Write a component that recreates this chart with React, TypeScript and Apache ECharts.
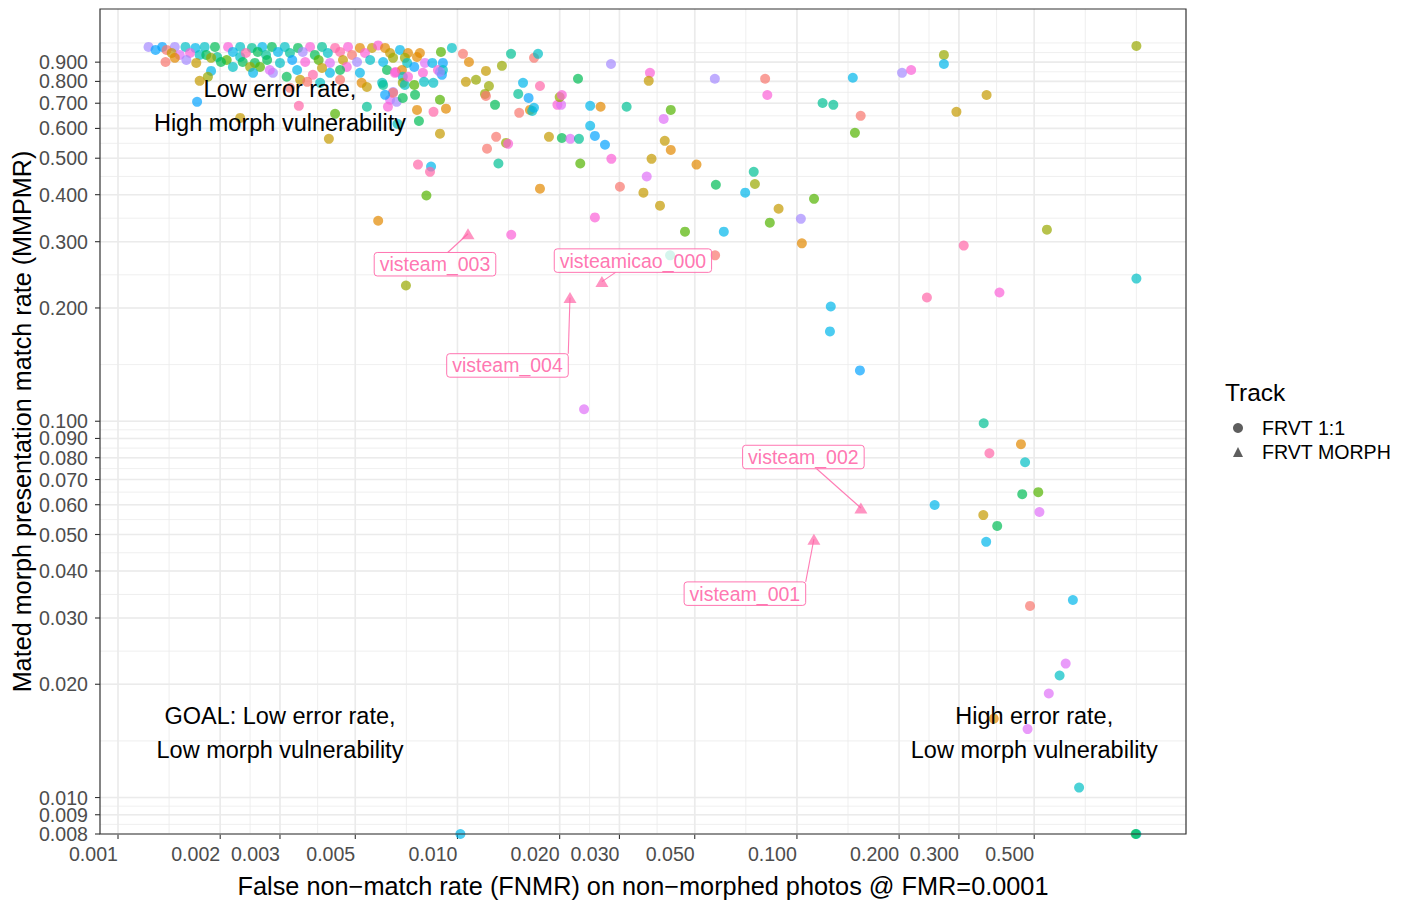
import React, { useEffect, useRef } from "react";
import * as echarts from "echarts";

// ---------------- DATA ----------------
// FRVT 1:1 algorithms, dense cluster (low FNMR, high MMPMR)
const CLUSTER_FNMR = [
  0.00123, 0.00135, 0.00147, 0.00158, 0.00169, 0.0018, 0.00193, 0.00211, 0.00229, 0.00248,
  0.00266, 0.00284, 0.0031, 0.00339, 0.00368, 0.00399, 0.00436, 0.00476, 0.00516, 0.0056,
  0.00584, 0.00612, 0.00677, 0.00715, 0.00129, 0.00139, 0.00144, 0.00152, 0.00163, 0.00174,
  0.00182, 0.00196, 0.00209, 0.00218, 0.00229, 0.00238, 0.00258, 0.00273, 0.00296, 0.00321,
  0.0035, 0.0038, 0.00415, 0.00451, 0.00489, 0.00534, 0.00633, 0.0076, 0.00775, 0.00138,
  0.00147, 0.00159, 0.0017, 0.00188, 0.00201, 0.00233, 0.00253, 0.00275, 0.003, 0.00326,
  0.00356, 0.0039, 0.00421, 0.0046, 0.00506, 0.00553, 0.00604, 0.00646, 0.007, 0.00711,
  0.00746, 0.00802, 0.00843, 0.00906, 0.00218, 0.00245, 0.00262, 0.00286, 0.00337, 0.00314,
  0.00375, 0.00421, 0.00472, 0.00516, 0.0062, 0.00658, 0.00686, 0.0069, 0.00791, 0.00876,
  0.009, 0.00906, 0.00654, 0.00188, 0.0025, 0.00184, 0.0028, 0.00399, 0.00451, 0.00174,
  0.00344, 0.00361, 0.00394, 0.00451, 0.00522, 0.00541, 0.006, 0.00604, 0.0069, 0.007,
  0.00746, 0.00797, 0.00849, 0.00715, 0.00888, 0.00321, 0.00646, 0.00633, 0.00646, 0.00612,
  0.00662, 0.0069, 0.00541, 0.00624, 0.00341, 0.00436, 0.00229, 0.00171, 0.00666,
];
const CLUSTER_MMPMR = [
  0.988, 0.988, 0.988, 0.988, 0.982, 0.988, 0.988, 0.988, 0.988, 0.982,
  0.988, 0.988, 0.988, 0.982, 0.988, 0.988, 0.982, 0.988, 0.982, 0.982,
  0.997, 0.982, 0.97, 0.952, 0.97, 0.97, 0.952, 0.941, 0.952, 0.941,
  0.941, 0.929, 0.912, 0.958, 0.929, 0.952, 0.958, 0.941, 0.958, 0.952,
  0.958, 0.941, 0.952, 0.958, 0.941, 0.952, 0.952, 0.929, 0.952, 0.901,
  0.924, 0.912, 0.896, 0.924, 0.901, 0.901, 0.896, 0.912, 0.896, 0.912,
  0.901, 0.912, 0.896, 0.912, 0.901, 0.912, 0.901, 0.924, 0.924, 0.896,
  0.874, 0.896, 0.896, 0.896, 0.874, 0.874, 0.874, 0.843, 0.858, 0.823,
  0.833, 0.843, 0.874, 0.843, 0.858, 0.848, 0.858, 0.823, 0.843, 0.858,
  0.833, 0.858, 0.843, 0.853, 0.843, 0.823, 0.858, 0.869, 0.858, 0.803,
  0.808, 0.798, 0.793, 0.808, 0.793, 0.773, 0.793, 0.783, 0.793, 0.783,
  0.783, 0.798, 0.793, 0.823, 0.848, 0.769, 0.75, 0.715, 0.746, 0.737,
  0.706, 0.723, 0.685, 0.685, 0.689, 0.656, 0.64, 0.706, 0.617,
];
const CLUSTER_TEAM = [
  10, 9, 10, 7, 8, 7, 5, 12, 7, 6,
  8, 5, 7, 5, 12, 6, 13, 12, 1, 2,
  12, 1, 8, 1, 9, 0, 2, 11, 12, 7,
  5, 6, 4, 8, 7, 13, 5, 6, 8, 6,
  10, 5, 7, 13, 0, 12, 2, 1, 1, 0,
  1, 10, 2, 3, 5, 5, 5, 5, 7, 9,
  12, 4, 11, 2, 10, 7, 8, 3, 3, 7,
  9, 11, 8, 9, 7, 3, 4, 10, 8, 5,
  13, 8, 12, 8, 5, 12, 1, 7, 12, 12,
  9, 7, 12, 8, 8, 3, 11, 2, 5, 2,
  2, 0, 7, 0, 1, 2, 7, 6, 3, 7,
  4, 7, 7, 12, 10, 0, 10, 11, 0, 9,
  10, 5, 6, 12, 13, 4, 2, 9, 7,
];

// FRVT 1:1 algorithms, spread-out points (MMPMR 0 = none matched, drawn at panel edge)
const SPREAD_FNMR = [
  0.00963, 0.01038, 0.01081, 0.00894, 0.01213, 0.01352, 0.01438, 0.01681, 0.01727, 0.02833,
  0.0369, 0.0366, 0.0573, 0.02265, 0.01059, 0.01134, 0.01238, 0.01205, 0.01213, 0.0129,
  0.0156, 0.0175, 0.0151, 0.0162, 0.0152, 0.01635, 0.0166, 0.0168, 0.0197, 0.0202,
  0.02, 0.0203, 0.0246, 0.0264, 0.0315, 0.0425, 0.0405, 0.0246, 0.0254, 0.0272,
  0.0186, 0.0203, 0.0215, 0.0228, 0.013, 0.0139, 0.0141, 0.0408, 0.0425, 0.00888,
  0.00925, 0.0085, 0.0075, 0.0077, 0.00888, 0.0076, 0.01222, 0.0132, 0.0284, 0.023,
  0.0301, 0.0373, 0.0361, 0.0353, 0.0395, 0.0175, 0.0506, 0.0577, 0.0746, 0.0752,
  0.0704, 0.0883, 0.1123, 0.0832, 0.1027, 0.1034, 0.0468, 0.0609, 0.0254, 0.0144,
  0.0423, 0.0574, 0.00418, 0.00765, 0.00836, 0.0083, 0.0081, 0.00584, 0.0806, 0.0818,
  0.119, 0.128, 0.1461, 0.1541, 0.1482, 0.204, 0.217, 0.271, 0.271, 0.362,
  0.295, 1.0, 0.1258, 0.1251, 0.1533, 0.31, 0.2415, 0.395, 0.545, 1.0,
  0.355, 0.457, 0.369, 0.47, 0.461, 0.514, 0.2545, 0.518, 0.354, 0.389,
  0.361, 0.486, 0.65, 0.619, 0.594, 0.552, 0.38, 0.478, 0.678, 1.0,
  0.995, 0.0102, 0.0236, 0.00705,
];
const SPREAD_MMPMR = [
  0.982, 0.947, 0.901, 0.958, 0.853, 0.88, 0.947, 0.924, 0.947, 0.89,
  0.843, 0.803, 0.813, 0.813, 0.798, 0.808, 0.778, 0.741, 0.732, 0.693,
  0.793, 0.778, 0.741, 0.723, 0.66, 0.672, 0.668, 0.681, 0.693, 0.693,
  0.727, 0.736, 0.689, 0.685, 0.685, 0.672, 0.636, 0.61, 0.573, 0.543,
  0.57, 0.566, 0.563, 0.563, 0.57, 0.549, 0.546, 0.556, 0.526, 0.715,
  0.677, 0.664, 0.737, 0.628, 0.581, 0.672, 0.53, 0.484, 0.498, 0.484,
  0.42, 0.498, 0.447, 0.405, 0.374, 0.415, 0.481, 0.425, 0.46, 0.427,
  0.405, 0.367, 0.39, 0.337, 0.345, 0.297, 0.319, 0.319, 0.348, 0.313,
  0.276, 0.276, 0.563, 0.481, 0.475, 0.46, 0.398, 0.341, 0.813, 0.736,
  0.701, 0.693, 0.818, 0.648, 0.584, 0.843, 0.858, 0.941, 0.89, 0.736,
  0.664, 0.994, 0.2018, 0.1733, 0.1365, 0.293, 0.2132, 0.2199, 0.323, 0.2394,
  0.0988, 0.0869, 0.0822, 0.0778, 0.064, 0.0648, 0.0599, 0.0574, 0.0563, 0.0527,
  0.0478, 0.0323, 0.0335, 0.0227, 0.0211, 0.0189, 0.0162, 0.0152, 0.01063, 0,
  0, 0, 0.1076, 0.2295,
];
const SPREAD_TEAM = [
  7, 0, 1, 4, 2, 3, 6, 0, 7, 10,
  12, 2, 10, 5, 2, 3, 3, 3, 0, 5,
  8, 13, 6, 9, 0, 1, 7, 8, 12, 11,
  3, 12, 8, 1, 6, 4, 11, 8, 9, 9,
  2, 5, 11, 6, 0, 3, 12, 2, 1, 4,
  1, 13, 5, 5, 2, 1, 0, 6, 12, 4,
  0, 2, 11, 2, 2, 1, 1, 5, 6, 3,
  8, 2, 4, 4, 10, 1, 4, 8, 12, 12,
  6, 0, 2, 13, 8, 13, 4, 1, 0, 12,
  6, 6, 8, 0, 4, 10, 12, 3, 8, 2,
  2, 3, 8, 8, 9, 13, 13, 12, 3, 7,
  6, 1, 13, 7, 5, 4, 8, 11, 2, 5,
  8, 0, 8, 11, 7, 11, 1, 11, 7, 7,
  5, 8, 11, 3,
];

// FRVT MORPH algorithms (labelled)
const MORPH_NAMES = ["visteam_003", "visteamicao_000", "visteam_004", "visteam_002", "visteam_001"];
const MORPH_FNMR = [0.01074, 0.02664, 0.02145, 0.1543, 0.1122];
const MORPH_MMPMR = [0.315, 0.235, 0.2133, 0.0588, 0.0486];

// Axes
const X_LIMITS = [0.000885, 1.4];
const Y_LIMITS = [0.008, 1.246];
const X_TICKS = [0.001, 0.002, 0.003, 0.005, 0.01, 0.02, 0.03, 0.05, 0.1, 0.2, 0.3, 0.5];
const X_TICK_LABELS = ["0.001", "0.002", "0.003", "0.005", "0.010", "0.020", "0.030", "0.050", "0.100", "0.200", "0.300", "0.500"];
const Y_TICKS = [0.008, 0.009, 0.01, 0.02, 0.03, 0.04, 0.05, 0.06, 0.07, 0.08, 0.09, 0.1, 0.2, 0.3, 0.4, 0.5, 0.6, 0.7, 0.8, 0.9];
const Y_TICK_LABELS = ["0.008", "0.009", "0.010", "0.020", "0.030", "0.040", "0.050", "0.060", "0.070", "0.080", "0.090", "0.100", "0.200", "0.300", "0.400", "0.500", "0.600", "0.700", "0.800", "0.900"];

// Annotations (data coordinates)
const ANNOT_X = [0.003, 0.003, 0.5];
const ANNOT_Y = [0.69, 0.0148, 0.0148];
const ANNOT_TEXT = [
  "Low error rate,\nHigh morph vulnerability",
  "GOAL: Low error rate,\nLow morph vulnerability",
  "High error rate,\nLow morph vulnerability",
];

const X_TITLE = "False non\u2212match rate (FNMR) on non\u2212morphed photos @ FMR=0.0001";
const Y_TITLE = "Mated morph presentation match rate (MMPMR)";

// ---------------- STYLE / LAYOUT ----------------
const FONT = "'Liberation Sans', Arial, Helvetica, sans-serif";
const TEAM_COLORS = [
  "#F8766D", "#E38900", "#C49A00", "#99A800", "#53B400", "#00BC56", "#00C094",
  "#00BFC4", "#00B6EB", "#06A4FF", "#A58AFF", "#DF70F8", "#FB61D7", "#FF66A8",
];
const MORPH_COLOR = "#FF66A8";
const GRID_COLOR = "#EBEBEB";
// label box centre offsets (px) from their point, as placed by the repel layout
const LABEL_NUDGE: [number, number][] = [[-33, 30.5], [31, -21], [-62.5, 68], [-57.5, -51], [-69, 54.5]];

const lg = Math.log10;
const XLO = lg(X_LIMITS[0]);
const XHI = lg(X_LIMITS[1]);
const YLO = lg(Y_LIMITS[0]);
const YHI = lg(Y_LIMITS[1]);
const ylog = (v: number) => (v > 0 ? lg(v) : YLO);

function minorBreaks(major: number[], lo: number, hi: number): number[] {
  const b = major.map(lg);
  const bd = b[1] - b[0];
  const ext = [...b];
  if (lo < ext[0]) ext.unshift(ext[0] - bd);
  if (hi > ext[ext.length - 1]) ext.push(ext[ext.length - 1] + bd);
  const out: number[] = [];
  for (let i = 0; i < ext.length - 1; i++) out.push(ext[i], (ext[i] + ext[i + 1]) / 2);
  out.push(ext[ext.length - 1]);
  return out.filter((v) => v >= lo && v <= hi);
}

function textWidth(s: string, font: string): number {
  const c = document.createElement("canvas").getContext("2d");
  if (!c) return s.length * 10;
  c.font = font;
  return c.measureText(s).width;
}

type GridItem = { axis: "x" | "y"; v: number; major: boolean; label?: string };

export default function App() {
  const ref = useRef<HTMLDivElement>(null);

  useEffect(() => {
    if (!ref.current) return;
    const chart = echarts.init(ref.current, undefined, { renderer: "svg" });

    const gridItems: GridItem[] = [
      ...minorBreaks(X_TICKS, XLO, XHI).map((v) => ({ axis: "x" as const, v, major: false })),
      ...minorBreaks(Y_TICKS, YLO, YHI).map((v) => ({ axis: "y" as const, v, major: false })),
      ...X_TICKS.map((t, i) => ({ axis: "x" as const, v: lg(t), major: true, label: X_TICK_LABELS[i] })),
      ...Y_TICKS.map((t, i) => ({ axis: "y" as const, v: lg(t), major: true, label: Y_TICK_LABELS[i] })),
    ];

    const tickFont = 19.6;
    const labelFont = 19.5;
    const labelPadX = 5.5;
    const labelH = 23.5;

    const points11 = [
      ...CLUSTER_FNMR.map((x, i) => ({ value: [lg(x), ylog(CLUSTER_MMPMR[i])], itemStyle: { color: TEAM_COLORS[CLUSTER_TEAM[i]] } })),
      ...SPREAD_FNMR.map((x, i) => ({ value: [lg(x), ylog(SPREAD_MMPMR[i])], itemStyle: { color: TEAM_COLORS[SPREAD_TEAM[i]] } })),
    ];
    const pointsMorph = MORPH_FNMR.map((x, i) => [lg(x), ylog(MORPH_MMPMR[i])]);

    const option: any = {
      animation: false,
      backgroundColor: "#ffffff",
      textStyle: { fontFamily: FONT },
      grid: { left: 100, top: 9, width: 1086, height: 826, show: false, containLabel: false },
      xAxis: {
        type: "value",
        min: XLO,
        max: XHI,
        axisLine: { show: false },
        axisTick: { show: false },
        axisLabel: { show: false },
        splitLine: { show: false },
        name: X_TITLE,
        nameLocation: "middle",
        nameGap: 39,
        nameTextStyle: { fontSize: 25.3, color: "#000000", fontFamily: FONT },
      },
      yAxis: {
        type: "value",
        min: YLO,
        max: YHI,
        axisLine: { show: false },
        axisTick: { show: false },
        axisLabel: { show: false },
        splitLine: { show: false },
        name: Y_TITLE,
        nameLocation: "middle",
        nameGap: 66,
        nameTextStyle: { fontSize: 25.2, color: "#000000", fontFamily: FONT },
      },
      title: [
        {
          text: "Track",
          left: 1225,
          top: 380,
          padding: 0,
          textStyle: { fontSize: 24.5, fontWeight: "normal", color: "#000000", fontFamily: FONT, lineHeight: 25 },
        },
      ],
      legend: {
        orient: "vertical",
        left: 1228,
        top: 413,
        itemWidth: 10,
        itemHeight: 10,
        itemGap: 4,
        selectedMode: false,
        data: [
          { name: "FRVT 1:1", icon: "circle", itemStyle: { color: "#5E5E5E", opacity: 1 } },
          { name: "FRVT MORPH", icon: "triangle", itemStyle: { color: "#5E5E5E", opacity: 1 } },
        ],
        textStyle: { fontSize: tickFont, color: "#000000", fontFamily: FONT, lineHeight: 20, padding: [0, 0, 0, 14] },
      },
      series: [
        {
          type: "custom",
          name: "grid",
          coordinateSystem: "cartesian2d",
          silent: true,
          z: 1,
          encode: { x: 0, y: 1 },
          data: gridItems.map((g) => [g.axis === "x" ? g.v : XLO, g.axis === "y" ? g.v : YLO]),
          renderItem: (params: any, api: any) => {
            const g = gridItems[params.dataIndex];
            const cs = params.coordSys;
            const top = cs.y;
            const bottom = cs.y + cs.height;
            const left = cs.x;
            const right = cs.x + cs.width;
            const lw = g.major ? 1.6 : 0.8;
            const children: any[] = [];
            if (g.axis === "x") {
              const px = api.coord([g.v, YLO])[0];
              children.push({ type: "line", shape: { x1: px, y1: top, x2: px, y2: bottom }, style: { stroke: GRID_COLOR, lineWidth: lw } });
              if (g.major) {
                children.push({ type: "line", shape: { x1: px, y1: bottom, x2: px, y2: bottom + 5 }, style: { stroke: "#333333", lineWidth: 1.1 } });
                children.push({
                  type: "text",
                  x: px,
                  y: bottom + 20,
                  style: { text: g.label, fill: "#4D4D4D", fontSize: tickFont, fontFamily: FONT, align: "right", verticalAlign: "middle" },
                });
              }
            } else {
              const py = api.coord([XLO, g.v])[1];
              children.push({ type: "line", shape: { x1: left, y1: py, x2: right, y2: py }, style: { stroke: GRID_COLOR, lineWidth: lw } });
              if (g.major) {
                children.push({ type: "line", shape: { x1: left - 5, y1: py, x2: left, y2: py }, style: { stroke: "#333333", lineWidth: 1.1 } });
                children.push({
                  type: "text",
                  x: left - 12,
                  y: py,
                  style: { text: g.label, fill: "#4D4D4D", fontSize: tickFont, fontFamily: FONT, align: "right", verticalAlign: "middle" },
                });
              }
            }
            return { type: "group", children };
          },
        },
        {
          type: "scatter",
          name: "FRVT 1:1",
          symbol: "circle",
          symbolSize: 10,
          z: 3,
          clip: false,
          silent: true,
          itemStyle: { opacity: 0.7 },
          data: points11,
        },
        {
          type: "scatter",
          name: "FRVT MORPH",
          symbol: "triangle",
          symbolSize: [13, 11],
          z: 3,
          clip: false,
          silent: true,
          itemStyle: { color: MORPH_COLOR, opacity: 0.7 },
          data: pointsMorph,
        },
        {
          type: "custom",
          name: "morph labels",
          coordinateSystem: "cartesian2d",
          silent: true,
          z: 5,
          encode: { x: 0, y: 1 },
          data: pointsMorph,
          renderItem: (params: any, api: any) => {
            const i = params.dataIndex;
            const p = api.coord([api.value(0), api.value(1)]);
            const name = MORPH_NAMES[i];
            const cx = p[0] + LABEL_NUDGE[i][0];
            const cy = p[1] + LABEL_NUDGE[i][1];
            const w = textWidth(name, `${labelFont}px ${FONT}`) + 2 * labelPadX;
            const h = labelH;
            const x1 = cx - w / 2, x2 = cx + w / 2, y1 = cy - h / 2, y2 = cy + h / 2;
            const outX = p[0] < x1 || p[0] > x2;
            const outY = p[1] < y1 || p[1] > y2;
            let sx: number, sy: number;
            if (outX && outY) {
              sx = Math.min(Math.max(p[0], x1), x2);
              sy = Math.min(Math.max(p[1], y1), y2);
            } else {
              const dx = p[0] - cx, dy = p[1] - cy;
              const tx = dx !== 0 ? Math.abs(w / 2 / dx) : Infinity;
              const ty = dy !== 0 ? Math.abs(h / 2 / dy) : Infinity;
              const t = Math.min(tx, ty);
              sx = cx + dx * t;
              sy = cy + dy * t;
            }
            return {
              type: "group",
              children: [
                { type: "line", shape: { x1: sx, y1: sy, x2: p[0], y2: p[1] }, style: { stroke: MORPH_COLOR, lineWidth: 1.1, opacity: 0.85 } },
                {
                  type: "rect",
                  shape: { x: x1, y: y1, width: w, height: h, r: 3 },
                  style: { fill: "rgba(255,255,255,0.85)", stroke: MORPH_COLOR, lineWidth: 1, opacity: 0.9 },
                },
                {
                  type: "text",
                  x: cx,
                  y: cy,
                  style: { text: name, fill: MORPH_COLOR, opacity: 0.9, fontSize: labelFont, fontFamily: FONT, align: "center", verticalAlign: "middle" },
                },
              ],
            };
          },
        },
        {
          type: "custom",
          name: "annotations",
          coordinateSystem: "cartesian2d",
          silent: true,
          z: 6,
          encode: { x: 0, y: 1 },
          data: ANNOT_X.map((x, i) => [lg(x), lg(ANNOT_Y[i])]),
          renderItem: (params: any, api: any) => {
            const p = api.coord([api.value(0), api.value(1)]);
            return {
              type: "text",
              x: p[0],
              y: p[1],
              style: {
                text: ANNOT_TEXT[params.dataIndex],
                fill: "#000000",
                fontSize: 23.5,
                lineHeight: 34,
                fontFamily: FONT,
                align: "center",
                verticalAlign: "middle",
              },
            };
          },
        },
        {
          type: "custom",
          name: "panel border",
          coordinateSystem: "cartesian2d",
          silent: true,
          z: 10,
          encode: { x: 0, y: 1 },
          data: [[XLO, YLO]],
          renderItem: (params: any) => {
            const cs = params.coordSys;
            return {
              type: "rect",
              shape: { x: cs.x, y: cs.y, width: cs.width, height: cs.height },
              style: { fill: "none", stroke: "#333333", lineWidth: 1.2 },
            };
          },
        },
      ],
    };

    chart.setOption(option);
    return () => chart.dispose();
  }, []);

  return (
    <div
      ref={ref}
      style={{ position: "fixed", left: 0, top: 0, width: 1408, height: 903, background: "#ffffff" }}
    />
  );
}
